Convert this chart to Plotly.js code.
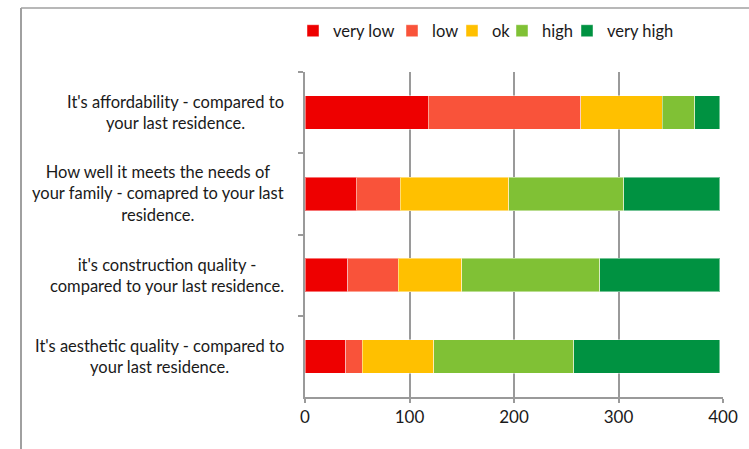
<!DOCTYPE html>
<html>
<head>
<meta charset="utf-8">
<script src="https://cdn.plot.ly/plotly-3.0.1.min.js"></script>
<style>
  html, body { margin: 0; padding: 0; background: #fff; }
  #chart { width: 749px; height: 449px; }
</style>
</head>
<body>
<div id="chart"></div>
<script>
// Survey questions (top to bottom)
const questions = [
  "It's affordability - compared to<br>your last residence.",
  "How well it meets the needs of<br>your family - comapred to your last<br>residence.",
  "it's construction quality -<br>compared to your last residence.",
  "It's aesthetic quality - compared to<br>your last residence."
];

// Response counts per rating level
const veryLow  = [118, 49, 41, 39];
const low      = [146, 42, 48, 16];
const ok       = [78, 104, 61, 68];
const high     = [31, 110, 132, 134];
const veryHigh = [24, 92, 115, 140];

const seriesNames  = ["very low", "low", "ok", "high", "very high"];
const seriesValues = [veryLow, low, ok, high, veryHigh];
const seriesColors = ["#EE0000", "#F9533A", "#FFC000", "#80C135", "#009241"];

const xTicks = [0, 100, 200, 300, 400];

const textFont = { family: "Lato, 'Open Sans', sans-serif", color: "#1a1a1a" };

// each series gets its own one-item legend so the key can be packed tightly
const legendIds = seriesNames.map((_, i) => i === 0 ? "legend" : "legend" + (i + 1));
const legendLeftPx = [293, 392, 452, 502, 567];

const traces = seriesNames.map((name, i) => ({
  type: "bar",
  orientation: "h",
  name: name,
  legend: legendIds[i],
  y: questions,
  x: seriesValues[i],
  marker: { color: seriesColors[i], line: { color: "rgba(255,255,255,0.45)", width: 1 } },
  hoverinfo: "x+name"
}));

// Centered multi-line question labels, right-aligned against the axis
const labelAnnotations = questions.map(q => ({
  xref: "paper", yref: "y",
  x: 0, y: q,
  xanchor: "right", yanchor: "middle",
  xshift: -19,
  align: "center",
  text: q,
  showarrow: false,
  font: Object.assign({ size: 16.5 }, textFont)
}));

// plot area: 305..723 px horizontally, 72..397 px vertically
const PW = 418, PH = 325;

const layout = {
  width: 749,
  height: 449,
  paper_bgcolor: "#ffffff",
  plot_bgcolor: "#ffffff",
  margin: { l: 305, r: 26, t: 72, b: 52, pad: 0, autoexpand: false },
  barmode: "stack",
  bargap: 0.59,
  font: textFont,
  showlegend: true,
  xaxis: {
    range: [0, 400],
    tickvals: xTicks,
    ticktext: xTicks.map(String),
    showgrid: true,
    gridcolor: "#9a9a9a",
    gridwidth: 1.5,
    showline: true,
    linecolor: "#9a9a9a",
    linewidth: 1.5,
    ticks: "outside",
    ticklen: 4,
    tickcolor: "#9a9a9a",
    tickwidth: 1.5,
    zeroline: false,
    tickfont: Object.assign({ size: 17 }, textFont),
    fixedrange: true
  },
  yaxis: {
    type: "category",
    autorange: "reversed",
    showticklabels: false,
    showline: true,
    linecolor: "#9a9a9a",
    linewidth: 1.5,
    ticks: "outside",
    tickson: "boundaries",
    ticklen: 5,
    tickcolor: "#9a9a9a",
    tickwidth: 1.5,
    showgrid: false,
    zeroline: false,
    fixedrange: true
  },
  annotations: labelAnnotations,
  shapes: [
    // chart frame (top and left edges)
    { type: "line", xref: "paper", yref: "paper", layer: "above",
      x0: -284 / PW, x1: 1.2, y0: 1 + 64 / PH, y1: 1 + 64 / PH,
      line: { color: "#a0a0a0", width: 1.5 } },
    { type: "line", xref: "paper", yref: "paper", layer: "above",
      x0: -284 / PW, x1: -284 / PW, y0: 1 + 64 / PH, y1: -0.3,
      line: { color: "#a0a0a0", width: 2 } }
  ]
};

legendIds.forEach((id, i) => {
  layout[id] = {
    orientation: "h",
    xref: "container", yref: "container",
    x: legendLeftPx[i] / 749, xanchor: "left",
    y: 1 - 31 / 449, yanchor: "middle",
    bgcolor: "rgba(0,0,0,0)",
    font: Object.assign({ size: 16.5 }, textFont),
    itemclick: false,
    itemdoubleclick: false
  };
});

Plotly.newPlot("chart", traces, layout, { displayModeBar: false });
</script>
</body>
</html>
